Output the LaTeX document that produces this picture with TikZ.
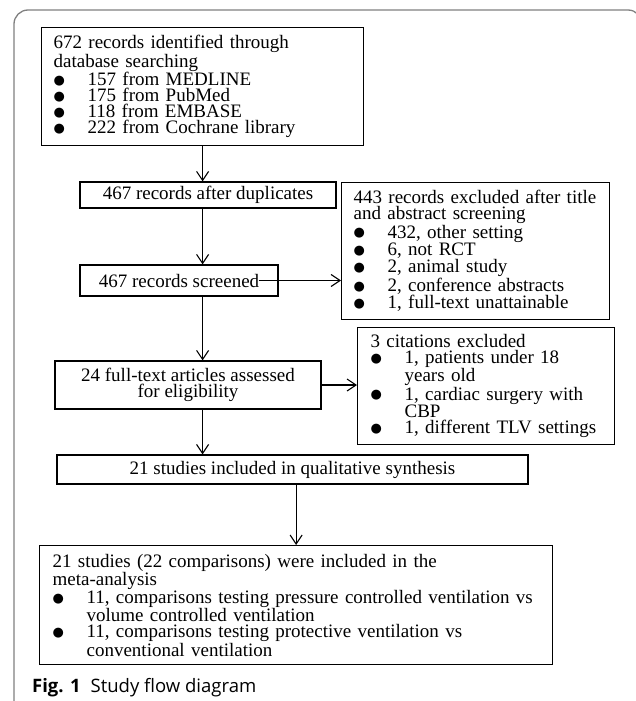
\documentclass[tikz,border=0pt]{standalone}
\usepackage{fontspec}
\setmainfont{Liberation Serif}
\newfontfamily\capfont{Open Sans}
\newfontfamily\symfont{DejaVu Sans}
\usetikzlibrary{arrows.meta}
\lineskiplimit=-100pt
\newcommand{\bu}{\makebox[34pt][l]{\raisebox{1.2pt}{\symfont\fontsize{13}{16}\selectfont ●}}}
\newcommand{\ind}{\hspace*{34pt}}

\begin{document}
\begin{tikzpicture}[x=1pt,y=-1pt,
    box/.style={draw,line width=1.2pt,inner sep=0pt,font=\fontsize{19}{16}\selectfont},
    lst/.style={box,anchor=north west,align=left,inner xsep=12pt,inner ysep=6pt},
    arr/.style={line width=1.1pt,-{Straight Barb[length=9pt,width=12pt]}}]
            \useasboundingbox (0,0) rectangle (636,701);
            \clip (0,0) rectangle (636,701);
            \draw[gray,line width=1.3pt,rounded corners=14pt] (14,720) -- (14,10) -- (642,10) -- (642,720);

            \node (b1) at (41,27) [lst,text width=298pt,minimum height=118pt] {672 records identified through\\database searching\\\bu 157 from MEDLINE\\\bu 175 from PubMed\\\bu 118 from EMBASE\\\bu 222 from Cochrane library};
            \node (b2) at (208,195) [box,minimum width=256pt,minimum height=26pt] {467 records after duplicates};
            \node (b3) at (179,280.5) [box,minimum width=198pt,minimum height=31pt] {467 records screened};
            \node (b4) at (188,385) [box,align=center,minimum width=266pt,minimum height=48pt] {24 full-text articles assessed\\for eligibility};
            \node (b5) at (292.5,469.5) [box,minimum width=471pt,minimum height=29pt] {21 studies included in qualitative synthesis};
            \node (b6) at (39,545) [lst,inner xsep=13pt,text width=487pt,minimum height=119pt] {21 studies (22 comparisons) were included in the\\meta-analysis\\\mbox{\bu 11, comparisons testing pressure controlled ventilation vs}\\\ind volume controlled ventilation\\\bu 11, comparisons testing protective ventilation vs\\\ind conventional ventilation};

            \node (e1) at (341,182) [lst,text width=244pt,minimum height=137pt] {\mbox{443 records excluded after title}\\and abstract screening\\\bu 432, other setting\\\bu 6, not RCT\\\bu 2, animal study\\\bu 2, conference abstracts\\\bu 1, full-text unattainable};
            \node (e2) at (357,327) [lst,inner xsep=13pt,text width=231pt,minimum height=117pt] {3 citations excluded\\\bu 1, patients under 18\\\ind years old\\\bu 1, cardiac surgery with\\\ind CBP\\\bu 1, different TLV settings};

            \node (cap) at (32,688) [anchor=west,inner sep=0pt,font=\capfont\fontsize{18.5}{20}\selectfont] {\textbf{Fig. 1}\hspace{10pt}Study flow diagram};

            \draw[arr] (b1.south) -- (b1.south |- b2.north);
            \draw[arr] (b2.south -| b1.south) -- (b3.north -| b1.south);
            \draw[arr] ([xshift=-20pt]b3.east) -- (b3.east -| e1.west);
            \draw[arr] (b3.south -| b1.south) -- (b4.north -| b1.south);
            \draw[arr] (b4.east) -- (b4.east -| e2.west);
            \draw[arr] (b4.south -| b1.south) -- (b5.north -| b1.south);
            \draw[arr] (b5.south -| b6.north) -- (b6.north);
        \end{tikzpicture}
\end{document}
